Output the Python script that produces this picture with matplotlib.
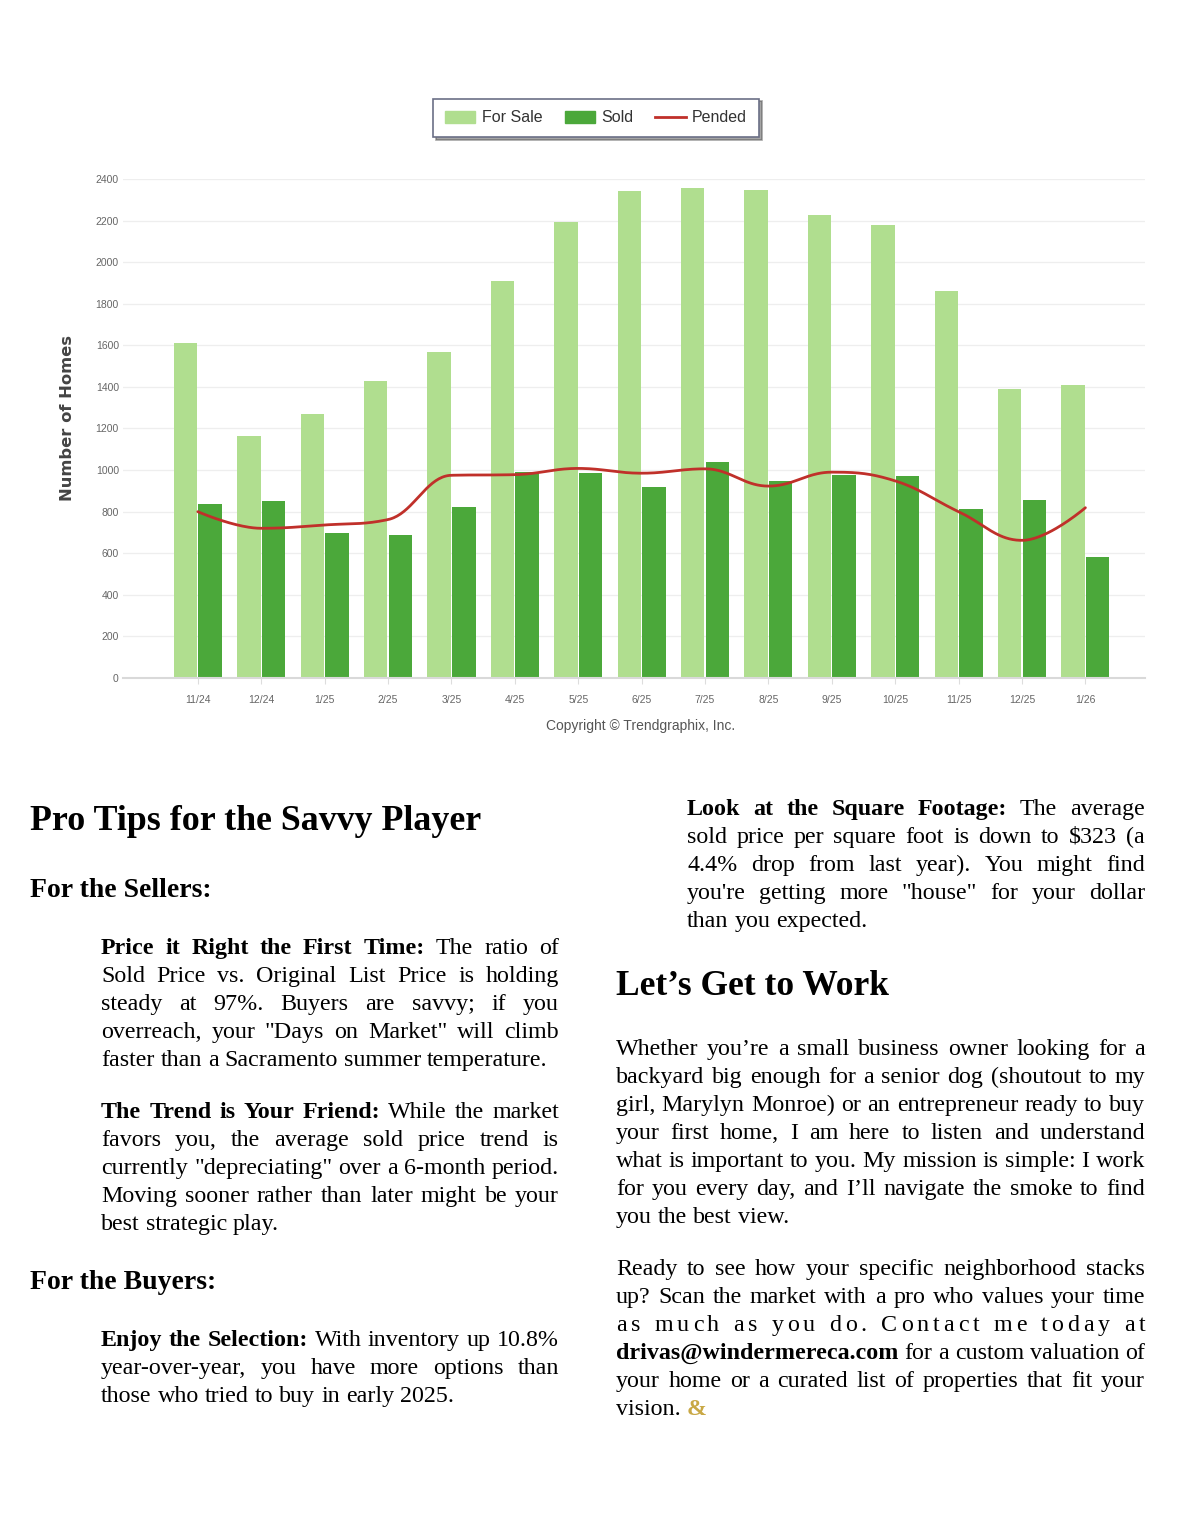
import numpy as np
import matplotlib.pyplot as plt
from matplotlib.patches import Patch
from matplotlib.lines import Line2D

# ---- chart data ----
months = ["11/24", "12/24", "1/25", "2/25", "3/25", "4/25", "5/25", "6/25",
          "7/25", "8/25", "9/25", "10/25", "11/25", "12/25", "1/26"]
for_sale = [1610, 1162, 1270, 1430, 1568, 1910, 2195, 2340, 2355, 2345, 2225, 2177, 1860, 1392, 1407]
sold = [837, 849, 695, 687, 823, 990, 985, 921, 1041, 948, 976, 970, 813, 856, 584]
pended = [800, 720, 736, 762, 975, 978, 1008, 985, 1006, 923, 990, 948, 800, 662, 819]
y_ticks = [0, 200, 400, 600, 800, 1000, 1200, 1400, 1600, 1800, 2000, 2200, 2400]

# ---- page text ----
title_left = "Pro Tips for the Savvy Player"
sellers_head = "For the Sellers:"
buyers_head = "For the Buyers:"
title_right = "Let\u2019s Get to Work"
para_price = [
    "**Price it Right the First Time:** The ratio of",
    "Sold Price vs. Original List Price is holding",
    "steady at 97%. Buyers are savvy; if you",
    "overreach, your \"Days on Market\" will climb",
    "faster than a Sacramento summer temperature.",
]
para_trend = [
    "**The Trend is Your Friend:** While the market",
    "favors you, the average sold price trend is",
    "currently \"depreciating\" over a 6-month period.",
    "Moving sooner rather than later might be your",
    "best strategic play.",
]
para_select = [
    "**Enjoy the Selection:** With inventory up 10.8%",
    "year-over-year, you have more options than",
    "those who tried to buy in early 2025.",
]
para_sqft = [
    "**Look at the Square Footage:** The average",
    "sold price per square foot is down to $323 (a",
    "4.4% drop from last year). You might find",
    "you're getting more \"house\" for your dollar",
    "than you expected.",
]
para_work = [
    "Whether you\u2019re a small business owner looking for a",
    "backyard big enough for a senior dog (shoutout to my",
    "girl, Marylyn Monroe) or an entrepreneur ready to buy",
    "your first home, I am here to listen and understand",
    "what is important to you. My mission is simple: I work",
    "for you every day, and I\u2019ll navigate the smoke to find",
    "you the best view.",
]
para_ready = [
    "Ready to see how your specific neighborhood stacks",
    "up? Scan the market with a pro who values your time",
    "as much as you do. Contact me today at",
    "**drivas@windermereca.com** for a custom valuation of",
    "your home or a curated list of properties that fit your",
    "vision. &",
]

W, H = 1180, 1522
fig = plt.figure(figsize=(W / 100, H / 100), dpi=100)
fig.patch.set_facecolor("white")

light = "#b0de8f"
dark = "#4ba83a"
red = "#c0302a"

# ---- the chart ----
ax = fig.add_axes([123 / W, 1 - 678 / H, (1145 - 123) / W, (678 - 179) / H])
x = np.arange(len(months))
bw = 0.37
ax.bar(x - bw / 2 - 0.01, for_sale, bw, color=light, zorder=2)
ax.bar(x + bw / 2 + 0.01, sold, bw, color=dark, zorder=2)


def spline(xs, ys, n=40):
    # highcharts style spline, smoothing 1.5
    xs = np.asarray(xs, float)
    ys = np.asarray(ys, float)
    m = len(xs)
    lc = [(xs[i], ys[i]) for i in range(m)]
    rc = [(xs[i], ys[i]) for i in range(m)]
    for i in range(1, m - 1):
        px, py = xs[i - 1], ys[i - 1]
        nx, ny = xs[i + 1], ys[i + 1]
        lx, ly = (1.5 * xs[i] + px) / 2.5, (1.5 * ys[i] + py) / 2.5
        rx, ry = (1.5 * xs[i] + nx) / 2.5, (1.5 * ys[i] + ny) / 2.5
        corr = (ry - ly) * (rx - xs[i]) / (rx - lx) + ys[i] - ry
        ly += corr
        ry += corr
        if ly > py and ly > ys[i]:
            ly = max(py, ys[i]); ry = 2 * ys[i] - ly
        elif ly < py and ly < ys[i]:
            ly = min(py, ys[i]); ry = 2 * ys[i] - ly
        if ry > ny and ry > ys[i]:
            ry = max(ny, ys[i]); ly = 2 * ys[i] - ry
        elif ry < ny and ry < ys[i]:
            ry = min(ny, ys[i]); ly = 2 * ys[i] - ry
        lc[i] = (lx, ly)
        rc[i] = (rx, ry)
    t = np.linspace(0, 1, n)[:, None]
    out = []
    for i in range(m - 1):
        p0 = np.array([xs[i], ys[i]])
        p1 = np.array(rc[i])
        p2 = np.array(lc[i + 1])
        p3 = np.array([xs[i + 1], ys[i + 1]])
        seg = ((1 - t) ** 3) * p0 + 3 * ((1 - t) ** 2) * t * p1 + 3 * (1 - t) * t ** 2 * p2 + t ** 3 * p3
        out.append(seg)
    out = np.vstack(out)
    return out[:, 0], out[:, 1]


sx, sy = spline(x, pended)
ax.plot(sx, sy, color=red, lw=2, zorder=3, solid_capstyle="round")

ax.set_xlim(-1.18, 14.94)
ax.set_ylim(0, 2400)
ax.set_yticks(y_ticks)
ax.set_yticklabels([str(v) for v in y_ticks], fontsize=7.5, color="#666666",
                   family="Liberation Sans")
ax.set_xticks(x)
ax.set_xticklabels(months, fontsize=7.5, color="#666666", family="Liberation Sans")
ax.tick_params(axis="y", length=0, pad=3)
ax.tick_params(axis="x", length=4, color="#dddddd", pad=8)
ax.grid(axis="y", color="#eeeeee", lw=0.9, zorder=0)
ax.set_axisbelow(True)
for s in ["top", "right", "left"]:
    ax.spines[s].set_visible(False)
ax.spines["bottom"].set_color("#d9d9d9")
ax.spines["bottom"].set_linewidth(1.5)
ax.set_ylabel("Number of Homes", fontsize=11.8, fontweight="bold", color="#444444",
              family="DejaVu Sans")
ax.yaxis.set_label_coords(-0.047, 0.522)

fig.text(641 / W, 1 - 726 / H, "Copyright \u00a9 Trendgraphix, Inc.", ha="center", va="center",
         fontsize=10, color="#555555", family="Liberation Sans")

handles = [Patch(color=light), Patch(color=dark), Line2D([], [], color=red, lw=2)]
leg = fig.legend(handles, ["For Sale", "Sold", "Pended"], loc="center",
                 bbox_to_anchor=(596 / W, 1 - 118 / H), ncol=3,
                 frameon=True, fancybox=False, shadow=True, handlelength=1.9,
                 handleheight=0.8, handletextpad=0.38, columnspacing=1.4,
                 borderpad=0.75, borderaxespad=0, prop={"family": "Liberation Sans", "size": 11.5})
leg.get_frame().set_edgecolor("#6b6f86")
leg.get_frame().set_linewidth(1.2)
for t in leg.get_texts():
    t.set_color("#333333")

# ---- page text ----
pg = fig.add_axes([0, 0, 1, 1])
pg.set_xlim(0, W)
pg.set_ylim(H, 0)
pg.axis("off")
renderer = fig.canvas.get_renderer()
serif = "Liberation Serif"
body = 17.3


def width_of(t):
    return t.get_window_extent(renderer).width


def draw_par(lines, x0, x1, y0, size=body, lead=28):
    a = pg.text(0, 0, "a a", fontsize=size, family=serif)
    b = pg.text(0, 0, "aa", fontsize=size, family=serif)
    sp = width_of(a) - width_of(b)
    a.remove()
    b.remove()
    for k, line in enumerate(lines):
        y = y0 + k * lead
        last = k == len(lines) - 1
        words = []
        bold = False
        for w in line.split(" "):
            bb = bold
            if w.startswith("**"):
                w = w[2:]
                bb = True
                bold = True
            if w.endswith("**"):
                w = w[:-2]
                bold = False
            words.append((w, bb))
        objs = []
        for w, bb in words:
            col = "#c9a845" if w == "&" else "black"
            objs.append(pg.text(0, y, w, fontsize=size, family=serif, color=col,
                                fontweight="bold" if (bb or w == "&") else "normal",
                                va="baseline", ha="left"))
        widths = [width_of(o) for o in objs]
        if last:
            gap = sp
        else:
            gap = (x1 - x0 - sum(widths)) / (len(words) - 1)
        if not last and gap > 4 * sp:
            # very loose line: spread the letters too
            for o in objs:
                o.remove()
            chars = list(line.replace("**", ""))
            cobjs = [pg.text(0, y, c, fontsize=size, family=serif, va="baseline")
                     for c in chars]
            cw = [width_of(o) if c != " " else sp for o, c in zip(cobjs, chars)]
            extra = (x1 - x0 - sum(cw)) / (len(chars) - 1)
            cx = x0
            for o, w in zip(cobjs, cw):
                o.set_x(cx)
                cx += w + extra
            continue
        cx = x0
        for o, w in zip(objs, widths):
            o.set_x(cx)
            cx += w + gap


pg.text(30, 830, title_left, fontsize=25.8, fontweight="bold", family=serif, va="baseline")
pg.text(30, 897, sellers_head, fontsize=20, fontweight="bold", family=serif, va="baseline")
draw_par(para_price, 101, 559, 954)
draw_par(para_trend, 101, 559, 1118)
pg.text(30, 1289, buyers_head, fontsize=20, fontweight="bold", family=serif, va="baseline")
draw_par(para_select, 101, 559, 1346)

draw_par(para_sqft, 687, 1145, 815)
pg.text(616, 995, title_right, fontsize=25.5, fontweight="bold", family=serif, va="baseline")
draw_par(para_work, 616, 1145, 1055)
draw_par(para_ready, 616, 1145, 1275)

fig.savefig("out.png", dpi=100)
